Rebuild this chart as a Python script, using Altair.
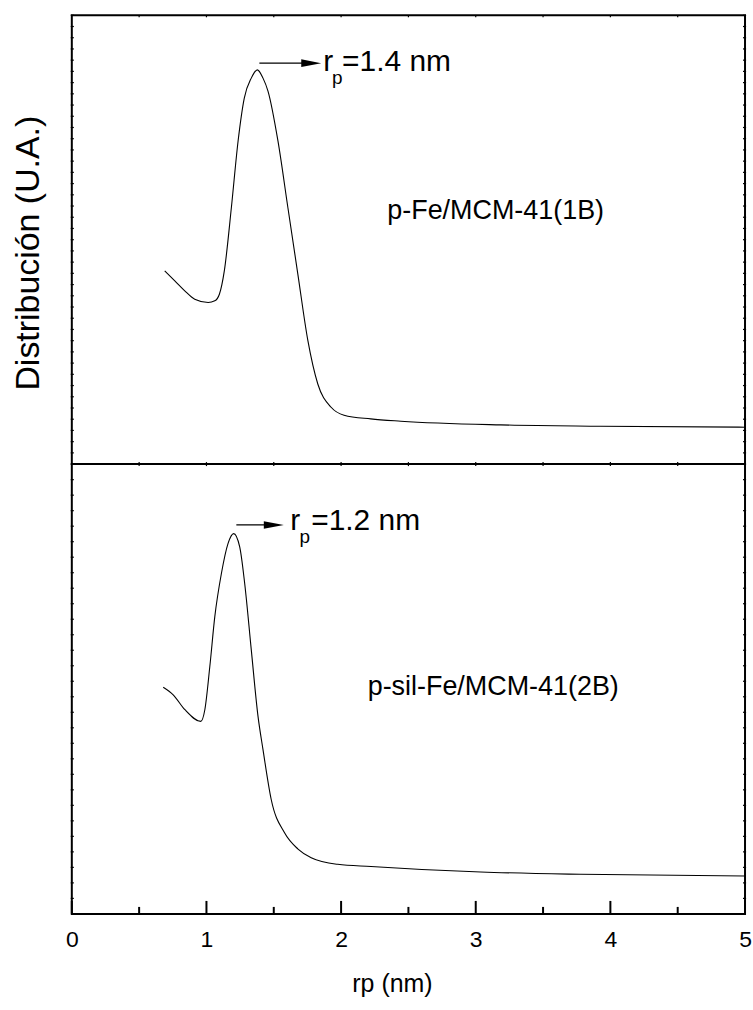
import altair as alt
import pandas as pd

FONT = "Liberation Sans"

# ---- data (y in arbitrary units) ----
top_x = [0.69, 0.765, 0.837, 0.913, 1.013, 1.062, 1.096, 1.133, 1.185, 1.235, 1.281,
         1.333, 1.378, 1.42, 1.457, 1.531, 1.605, 1.679, 1.753, 1.827, 1.926, 2.022,
         2.22, 2.444, 3.185, 3.926, 5.0]
top_y = [193.7, 183.7, 174.0, 165.3, 162.0, 163.7, 170.3, 194.0, 257.0, 324.0, 367.0,
         387.0, 395.3, 387.0, 374.0, 324.0, 257.0, 190.3, 124.0, 80.3, 57.0, 49.0,
         45.3, 43.0, 39.3, 38.0, 37.0]

bot_x = [0.679, 0.753, 0.84, 0.958, 0.988, 1.025, 1.062, 1.111, 1.16, 1.202, 1.247,
         1.284, 1.333, 1.383, 1.42, 1.481, 1.58, 1.68, 1.778, 1.975, 2.222, 2.6, 3.037,
         3.778, 5.0]
bot_y = [227.3, 219.7, 204.7, 193.0, 204.7, 248.0, 298.0, 341.3, 371.3, 381.3, 368.0,
         331.3, 264.7, 198.0, 164.7, 114.7, 81.3, 65.0, 56.3, 49.7, 47.5, 44.5, 42.0,
         39.7, 38.0]

x_major = [0, 1, 2, 3, 4, 5]
x_minor = [0.5, 1.5, 2.5, 3.5, 4.5]
x_half = [0.5, 1, 1.5, 2, 2.5, 3, 3.5, 4, 4.5]

top_max = 450
bot_max = 451
top_ytick_step = 11.25
bot_ytick_step = 15.55

top_label = "p-Fe/MCM-41(1B)"
bot_label = "p-sil-Fe/MCM-41(2B)"
top_peak = "=1.4 nm"
bot_peak = "=1.2 nm"

W = 675


def panel(xs, ys, ymax, ystep, label, label_pos, arrow, rtext_pos, peak_text, bottom):
    xsc = alt.Scale(domain=[0, 5], nice=False, zero=False)
    ysc = alt.Scale(domain=[0, ymax], nice=False, zero=False)
    if bottom:
        xax = alt.Axis(values=x_major, format="d", ticks=False, tickSize=0, domain=False,
                       grid=False, labelFontSize=23, labelFont=FONT, labelPadding=15,
                       labelFlush=False, labelColor="black", title="rp (nm)",
                       titleFontSize=25, titleFont=FONT, titleFontWeight="normal",
                       titlePadding=20, titleColor="black", titleX=321)
        yax = None
    else:
        xax = None
        yax = alt.Axis(labels=False, ticks=False, tickSize=0, domain=False, grid=False,
                       title="Distribución (U.A.)", titleFontSize=34, titleFont=FONT,
                       titleFontWeight="normal", titleColor="black", titlePadding=26,
                       titleY=238)

    curve = alt.Chart(pd.DataFrame({"x": xs, "y": ys})).mark_line(
        color="black", strokeWidth=1.1, interpolate="monotone"
    ).encode(x=alt.X("x:Q", scale=xsc, axis=xax), y=alt.Y("y:Q", scale=ysc, axis=yax))

    layers = [curve]

    def X(f):
        return alt.X(f, scale=xsc)

    def Y(f):
        return alt.Y(f, scale=ysc)

    # y-axis minor ticks (left and right)
    nyt = int(ymax / ystep)
    yt = [round(i * ystep, 2) for i in range(1, nyt + 1)]
    ytick_df = pd.DataFrame({"y": yt, "xl1": [-0.008] * len(yt), "xl2": [0.015] * len(yt),
                             "xr1": [4.985] * len(yt), "xr2": [5.008] * len(yt)})
    for a, b in (("xl1", "xl2"), ("xr1", "xr2")):
        layers.append(alt.Chart(ytick_df).mark_rule(color="black", strokeWidth=1.2).encode(
            x=X(f"{a}:Q"), x2=f"{b}:Q", y=Y("y:Q")))

    # x ticks
    if bottom:
        maj = pd.DataFrame({"x": x_major, "y1": [0] * 6, "y2": [13] * 6})
        mnr = pd.DataFrame({"x": x_minor, "y1": [0] * 5, "y2": [7] * 5})
        for d in (maj, mnr):
            layers.append(alt.Chart(d).mark_rule(color="black", strokeWidth=2).encode(
                x=X("x:Q"), y=Y("y1:Q"), y2="y2:Q"))
        tiny = pd.DataFrame({"x": x_half, "y1": [ymax - 2] * 9, "y2": [ymax] * 9})
        layers.append(alt.Chart(tiny).mark_rule(color="black", strokeWidth=1.2).encode(
            x=X("x:Q"), y=Y("y1:Q"), y2="y2:Q"))
    else:
        for base, d0 in ((0, 2), (ymax, -2)):
            tiny = pd.DataFrame({"x": x_half, "y1": [base] * 9, "y2": [base + d0] * 9})
            layers.append(alt.Chart(tiny).mark_rule(color="black", strokeWidth=1.2).encode(
                x=X("x:Q"), y=Y("y1:Q"), y2="y2:Q"))

    # sample label
    lab = pd.DataFrame({"x": [label_pos[0]], "y": [label_pos[1]], "t": [label]})
    layers.append(alt.Chart(lab).mark_text(font=FONT, fontSize=27, align="center",
                                           baseline="middle", color="black").encode(
        x=X("x:Q"), y=Y("y:Q"), text="t:N"))

    # arrow
    ar = pd.DataFrame({"x": [arrow[0]], "x2": [arrow[1]], "y": [arrow[2]]})
    layers.append(alt.Chart(ar).mark_rule(color="black", strokeWidth=1.3).encode(
        x=X("x:Q"), x2="x2:Q", y=Y("y:Q")))
    head = pd.DataFrame({"x": [arrow[1]], "y": [arrow[2]]})
    layers.append(alt.Chart(head).mark_point(
        shape="M-1,-0.38L1,0L-1,0.38Z", filled=True, color="black", opacity=1, size=400
    ).encode(x=X("x:Q"), y=Y("y:Q")))

    # r_p = ... text
    rx, ry, px_, py_, ex = rtext_pos
    for tx, ty, t, fs in ((rx, ry, "r", 30), (px_, py_, "p", 19), (ex, ry, peak_text, 30)):
        d = pd.DataFrame({"x": [tx], "y": [ty], "t": [t]})
        layers.append(alt.Chart(d).mark_text(font=FONT, fontSize=fs, align="left",
                                             baseline="alphabetic", color="black").encode(
            x=X("x:Q"), y=Y("y:Q"), text="t:N"))

    return alt.layer(*layers).properties(width=W, height=ymax)


top = panel(top_x, top_y, top_max, top_ytick_step, top_label, (3.148, 254),
            (1.393, 1.778, 402), (1.867, 394, 1.933, 381, 2.007), top_peak, False)
bot = panel(bot_x, bot_y, bot_max, bot_ytick_step, bot_label, (3.13, 227),
            (1.222, 1.50, 390), (1.622, 385, 1.691, 372, 1.778), bot_peak, True)

chart = alt.vconcat(top, bot, spacing=0, bounds="flush").properties(
    padding={"left": 11, "top": 12, "right": 0, "bottom": 0}
).configure(background="white").configure_view(stroke="black", strokeWidth=2)

chart.save("out.html", embed_options={"renderer": "svg", "actions": False})
